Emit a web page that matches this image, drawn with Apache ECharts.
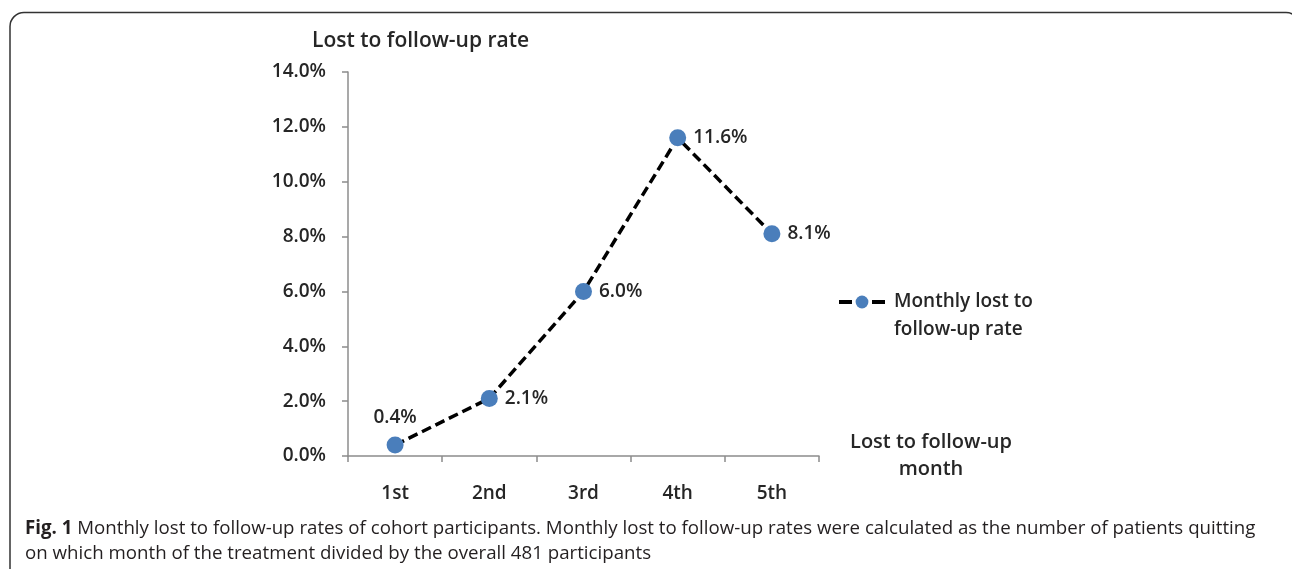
<!DOCTYPE html>
<html>
<head>
<meta charset="utf-8">
<script src="https://cdn.jsdelivr.net/npm/echarts@6/dist/echarts.min.js"></script>
<style>
html,body{margin:0;padding:0;background:#fff;}
#chart{width:1292px;height:569px;}
</style>
</head>
<body>
<div id="chart"></div>
<script>
const categories = ['1st', '2nd', '3rd', '4th', '5th'];
const rates = [0.4, 2.1, 6.0, 11.6, 8.1];
const seriesName = 'Monthly lost to follow-up rate';
const legendLines = ['Monthly lost to', 'follow-up rate'];
const yTicks = { min: 0, max: 14, interval: 2 };
const yAxisTitle = 'Lost to follow-up rate';
const xAxisTitle = 'Lost to follow-up\nmonth';
const captionLine1 = 'Monthly lost to follow-up rates of cohort participants. Monthly lost to follow-up rates were calculated as the number of patients quitting';
const captionLine2 = 'on which month of the treatment divided by the overall 481 participants';

const chartFont = 'Open Sans';
const txt = '#262626';

const chart = echarts.init(document.getElementById('chart'), null, { renderer: 'canvas' });

const option = {
  backgroundColor: '#fff',
  animation: false,
  grid: { left: 348, right: 473, top: 72, bottom: 113, containLabel: false },
  legend: {
    left: 832,
    top: 255,
    itemWidth: 46,
    itemHeight: 16,
    data: [seriesName],
    lineStyle: { width: 4, type: [13, 20], color: '#000' },
    formatter: () => '{s| }\n{a|' + legendLines[0] + '}\n{a|' + legendLines[1] + '}',
    textStyle: {
      fontFamily: chartFont, fontSize: 19, fontWeight: 600, color: txt,
      rich: {
        s: { fontSize: 10, lineHeight: 28, height: 28 },
        a: { fontFamily: chartFont, fontSize: 19, fontWeight: 600, color: txt, lineHeight: 28, padding: [0, 0, 0, 4] }
      }
    }
  },
  xAxis: {
    type: 'category',
    data: categories,
    boundaryGap: true,
    name: xAxisTitle,
    nameLocation: 'end',
    nameGap: 112,
    nameTextStyle: { fontFamily: chartFont, fontSize: 20, fontWeight: 600, color: txt, align: 'center', verticalAlign: 'middle', lineHeight: 27 },
    axisLine: { lineStyle: { color: '#8c8c8c', width: 1.5 } },
    axisTick: { show: true, alignWithLabel: false, length: 6, lineStyle: { color: '#8c8c8c', width: 1.5 } },
    axisLabel: { margin: 28, fontFamily: chartFont, fontSize: 19, fontWeight: 600, color: txt },
    splitLine: { show: false }
  },
  yAxis: {
    type: 'value',
    min: yTicks.min,
    max: yTicks.max,
    interval: yTicks.interval,
    name: yAxisTitle,
    nameLocation: 'end',
    nameGap: 20,
    nameTextStyle: { fontFamily: chartFont, fontSize: 21, fontWeight: 600, color: txt, align: 'left', padding: [0, 0, 0, -36] },
    axisLine: { show: true, lineStyle: { color: '#8c8c8c', width: 1.5 } },
    axisTick: { show: true, length: 6, lineStyle: { color: '#8c8c8c', width: 1.5 } },
    axisLabel: { margin: 22, fontFamily: chartFont, fontSize: 19, fontWeight: 600, color: txt, formatter: v => v.toFixed(1) + '%' },
    splitLine: { show: false }
  },
  series: [{
    name: seriesName,
    type: 'line',
    data: rates.map((v, i) => ({
      value: v,
      label: i === 0 ? { position: 'top', distance: 9 } : { position: 'right', distance: 7 }
    })),
    symbol: 'circle',
    symbolSize: 17,
    itemStyle: { color: '#4a7ebb' },
    lineStyle: { color: '#000', width: 3.5, type: [10, 5] },
    label: {
      show: true,
      fontFamily: chartFont,
      fontSize: 19,
      fontWeight: 600,
      color: txt,
      formatter: p => p.value.toFixed(1) + '%'
    }
  }],
  graphic: [
    {
      type: 'rect',
      shape: { x: 10, y: 12.5, width: 1290, height: 620, r: 14 },
      style: { fill: 'none', stroke: '#333', lineWidth: 1.5 },
      silent: true
    },
    {
      type: 'text',
      left: 25,
      top: 516,
      style: {
        text: '{b|Fig. 1} ' + captionLine1 + '\n' + captionLine2,
        fontFamily: chartFont,
        fontSize: 18.7,
        lineHeight: 25,
        fill: '#231f20',
        rich: {
          b: { fontFamily: chartFont, fontSize: 18.7, fontWeight: 'bold', fill: '#231f20' }
        }
      }
    }
  ]
};

chart.setOption(option);
</script>
</body>
</html>
